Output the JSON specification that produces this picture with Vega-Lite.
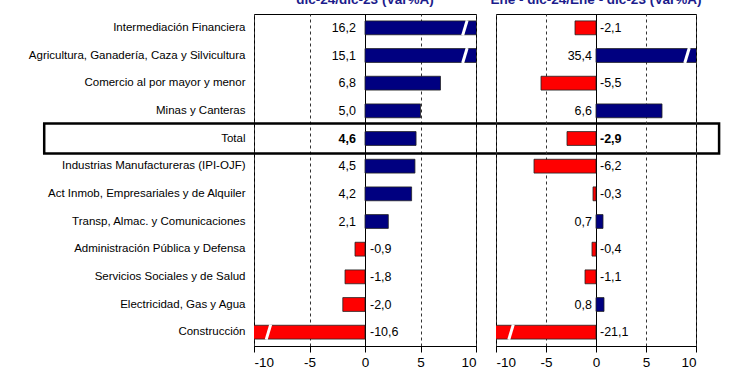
{
  "$schema": "https://vega.github.io/schema/vega-lite/v6.json",
  "autosize": "none",
  "padding": {"left": 254, "top": 14, "right": 496, "bottom": 361},
  "background": "white",
  "bounds": "flush",
  "spacing": 20,
  "config": {
    "locale": {"number": {"decimal": ",", "thousands": ".", "grouping": [3], "currency": ["", " €"], "minus": "-"}},
    "font": "Liberation Sans",
    "view": {"stroke": "#000000", "strokeWidth": 1},
    "title": {"color": "#1c1c8c", "fontSize": 13.5, "fontWeight": "bold", "anchor": "middle", "offset": 8, "font": "Liberation Sans"}
  },
  "datasets": {
    "d": [
      {"sector": "Intermediación Financiera", "v1": 16.2, "v2": -2.1},
      {"sector": "Agricultura, Ganadería, Caza y Silvicultura", "v1": 15.1, "v2": 35.4},
      {"sector": "Comercio al por mayor y menor", "v1": 6.8, "v2": -5.5},
      {"sector": "Minas y Canteras", "v1": 5.0, "v2": 6.6},
      {"sector": "Total", "v1": 4.6, "v2": -2.9},
      {"sector": "Industrias Manufactureras (IPI-OJF)", "v1": 4.5, "v2": -6.2},
      {"sector": "Act Inmob, Empresariales y de Alquiler", "v1": 4.2, "v2": -0.3},
      {"sector": "Transp, Almac. y Comunicaciones", "v1": 2.1, "v2": 0.7},
      {"sector": "Administración Pública y Defensa", "v1": -0.9, "v2": -0.4},
      {"sector": "Servicios Sociales y de Salud", "v1": -1.8, "v2": -1.1},
      {"sector": "Electricidad, Gas y Agua", "v1": -2.0, "v2": 0.8},
      {"sector": "Construcción", "v1": -10.6, "v2": -21.1}
    ]
  },
  "hconcat": [
    {
      "width": 222,
      "height": 332,
      "title": {"text": "dic-24/dic-23  (Var%A)"},
      "data": {"name": "d"},
      "encoding": {
        "y": {
          "field": "sector", "type": "nominal", "sort": null,
          "scale": {"paddingInner": 0.5, "paddingOuter": 0.25},
          "axis": {
            "title": null, "ticks": false, "domain": false, "labelPadding": 9,
            "labelFontSize": 11.5, "labelColor": "#000000", "labelLimit": 300
          }
        }
      },
      "layer": [
        {
          "mark": {"type": "bar", "clip": true, "stroke": "#222222", "strokeWidth": 0.8},
          "encoding": {
            "x": {
              "field": "v1", "type": "quantitative",
              "scale": {"domain": [-10, 10], "nice": false},
              "axis": {
                "title": null, "values": [-10, -5, 0, 5, 10], "format": "d",
                "grid": true,
                "gridColor": {"condition": {"test": "datum.value === 0", "value": "#000000"}, "value": "#333333"},
                "gridDash": {"condition": {"test": "datum.value === 0", "value": []}, "value": [3, 3]},
                "domainColor": "#000000", "tickColor": "#000000", "tickSize": 6,
                "labelFontSize": 13.5, "labelColor": "#000000", "labelPadding": 3
              }
            },
            "color": {"condition": {"test": "datum.v1 < 0", "value": "#ff0000"}, "value": "#000080"}
          }
        },
        {
          "transform": [{"filter": "datum.v1 > 10"}],
          "mark": {"type": "point", "shape": "M -0.3 1 L 0.3 -1", "filled": false, "stroke": "white", "strokeWidth": 3, "size": 225, "opacity": 1},
          "encoding": {"x": {"datum": 9}}
        },
        {
          "transform": [{"filter": "datum.v1 < -10"}],
          "mark": {"type": "point", "shape": "M -0.3 1 L 0.3 -1", "filled": false, "stroke": "white", "strokeWidth": 3, "size": 225, "opacity": 1},
          "encoding": {"x": {"datum": -8.7}}
        },
        {
          "transform": [{"filter": "datum.v1 >= 0 && datum.sector !== 'Total'"}],
          "mark": {"type": "text", "align": "right", "dx": -9, "fontSize": 12.5, "color": "#000000"},
          "encoding": {"x": {"datum": 0}, "text": {"field": "v1", "type": "quantitative", "format": ".1f"}}
        },
        {
          "transform": [{"filter": "datum.v1 < 0"}],
          "mark": {"type": "text", "align": "left", "dx": 5, "fontSize": 12.5, "color": "#000000"},
          "encoding": {"x": {"datum": 0}, "text": {"field": "v1", "type": "quantitative", "format": ".1f"}}
        },
        {
          "transform": [{"filter": "datum.sector === 'Total'"}],
          "mark": {"type": "text", "align": "right", "dx": -9, "fontSize": 12.5, "fontWeight": "bold", "color": "#000000"},
          "encoding": {"x": {"datum": 0}, "text": {"field": "v1", "type": "quantitative", "format": ".1f"}}
        },
        {
          "transform": [{"filter": "datum.sector === 'Total'"}],
          "mark": {"type": "rect", "height": 30, "fill": null, "fillOpacity": 0, "stroke": "#000000", "strokeWidth": 2.5},
          "encoding": {"x": {"datum": -28.9}, "x2": {"datum": 31.9}}
        }
      ]
    },
    {
      "width": 200,
      "height": 332,
      "title": {"text": "Ene - dic-24/Ene - dic-23  (Var%A)"},
      "data": {"name": "d"},
      "encoding": {
        "y": {
          "field": "sector", "type": "nominal", "sort": null,
          "scale": {"paddingInner": 0.5, "paddingOuter": 0.25},
          "axis": null
        }
      },
      "layer": [
        {
          "mark": {"type": "bar", "clip": true, "stroke": "#222222", "strokeWidth": 0.8},
          "encoding": {
            "x": {
              "field": "v2", "type": "quantitative",
              "scale": {"domain": [-10, 10], "nice": false},
              "axis": {
                "title": null, "values": [-10, -5, 0, 5, 10], "format": "d",
                "grid": true,
                "gridColor": {"condition": {"test": "datum.value === 0", "value": "#000000"}, "value": "#333333"},
                "gridDash": {"condition": {"test": "datum.value === 0", "value": []}, "value": [3, 3]},
                "domainColor": "#000000", "tickColor": "#000000", "tickSize": 6,
                "labelFontSize": 13.5, "labelColor": "#000000", "labelPadding": 3
              }
            },
            "color": {"condition": {"test": "datum.v2 < 0", "value": "#ff0000"}, "value": "#000080"}
          }
        },
        {
          "transform": [{"filter": "datum.v2 > 10"}],
          "mark": {"type": "point", "shape": "M -0.3 1 L 0.3 -1", "filled": false, "stroke": "white", "strokeWidth": 3, "size": 225, "opacity": 1},
          "encoding": {"x": {"datum": 9.1}}
        },
        {
          "transform": [{"filter": "datum.v2 < -10"}],
          "mark": {"type": "point", "shape": "M -0.3 1 L 0.3 -1", "filled": false, "stroke": "white", "strokeWidth": 3, "size": 225, "opacity": 1},
          "encoding": {"x": {"datum": -8.5}}
        },
        {
          "transform": [{"filter": "datum.v2 >= 0"}],
          "mark": {"type": "text", "align": "right", "dx": -4, "fontSize": 12.5, "color": "#000000"},
          "encoding": {"x": {"datum": 0}, "text": {"field": "v2", "type": "quantitative", "format": ".1f"}}
        },
        {
          "transform": [{"filter": "datum.v2 < 0 && datum.sector !== 'Total'"}],
          "mark": {"type": "text", "align": "left", "dx": 4, "fontSize": 12.5, "color": "#000000"},
          "encoding": {"x": {"datum": 0}, "text": {"field": "v2", "type": "quantitative", "format": ".1f"}}
        },
        {
          "transform": [{"filter": "datum.sector === 'Total'"}],
          "mark": {"type": "text", "align": "left", "dx": 4, "fontSize": 12.5, "fontWeight": "bold", "color": "#000000"},
          "encoding": {"x": {"datum": 0}, "text": {"field": "v2", "type": "quantitative", "format": ".1f"}}
        }
      ]
    }
  ]
}
